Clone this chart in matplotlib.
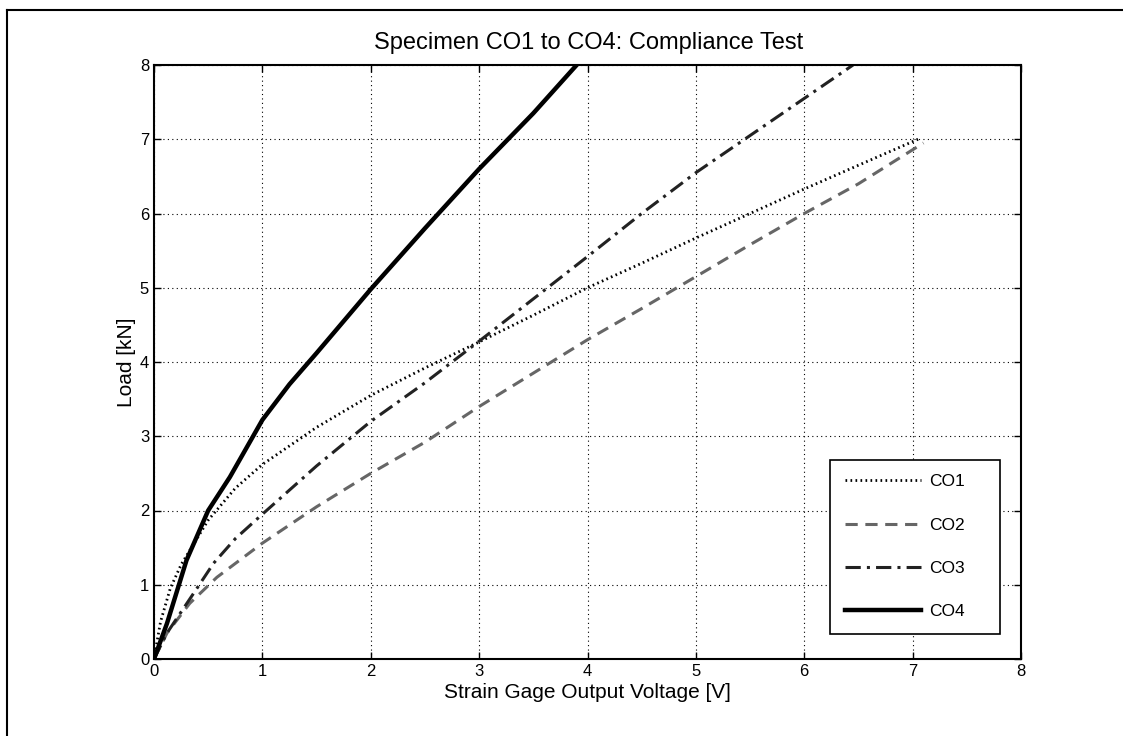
import numpy as np
import matplotlib
matplotlib.use('Agg')
import matplotlib.pyplot as plt
from matplotlib.lines import Line2D

plt.rcParams['font.family'] = ['Liberation Sans', 'DejaVu Sans']

# CO1 - dotted
co1_v = [0, 0.06, 0.15, 0.25, 0.5, 0.75, 1.0, 1.5, 2.0, 2.5, 3.0, 3.5, 4.0, 4.5, 5.0, 5.5, 6.0, 6.5, 7.05]
co1_kn = [0, 0.5, 0.95, 1.27, 1.87, 2.3, 2.62, 3.12, 3.55, 3.92, 4.27, 4.63, 5.0, 5.33, 5.67, 6.0, 6.33, 6.65, 7.0]
# CO2 - dashed
co2_v = [0, 0.12, 0.33, 0.58, 1.0, 1.5, 2.0, 2.5, 3.0, 3.5, 4.0, 4.5, 5.0, 5.5, 6.0, 6.5, 7.1]
co2_kn = [0, 0.35, 0.75, 1.1, 1.56, 2.05, 2.5, 2.92, 3.4, 3.85, 4.3, 4.72, 5.15, 5.58, 6.0, 6.4, 6.95]
# CO3 - dash-dot
co3_v = [0, 0.12, 0.4, 0.55, 0.75, 1.0, 1.5, 2.0, 2.5, 3.0, 3.5, 4.0, 4.5, 5.0, 5.5, 6.0, 6.45]
co3_kn = [0, 0.35, 0.96, 1.29, 1.62, 1.95, 2.6, 3.2, 3.72, 4.28, 4.85, 5.42, 6.0, 6.55, 7.05, 7.55, 8.0]
# CO4 - solid
co4_v = [0, 0.12, 0.3, 0.5, 0.7, 1.0, 1.25, 1.5, 2.0, 2.5, 3.0, 3.5, 3.9]
co4_kn = [0, 0.48, 1.33, 2.0, 2.45, 3.22, 3.7, 4.12, 4.98, 5.8, 6.6, 7.35, 8.0]

labels = ['CO1', 'CO2', 'CO3', 'CO4']

fig = plt.figure(figsize=(11.23, 7.36), dpi=100)
ax = fig.add_axes([154 / 1123, 1 - 659 / 736, (1021 - 154) / 1123, (659 - 65) / 736])

ax.plot(co1_v, co1_kn, color='black', lw=2, linestyle=(0, (0.6, 1.2)), label=labels[0])
ax.plot(co2_v, co2_kn, color='#666666', lw=2.2, linestyle=(0, (4, 2.5)), label=labels[1])
ax.plot(co3_v, co3_kn, color='#222222', lw=2.2, linestyle=(0, (5, 2, 1, 2)), label=labels[2])
ax.plot(co4_v, co4_kn, color='black', lw=3.2, label=labels[3])

ax.set_xlim(0, 8)
ax.set_ylim(0, 8)
ax.set_xticks(range(9))
ax.set_yticks(range(9))
ax.grid(True, color='black', linestyle=(0, (1, 3)), lw=0.8)
ax.tick_params(direction='in', top=True, right=True, length=5, labelsize=12, width=1)
for s in ax.spines.values():
    s.set_linewidth(1.5)

fig.text(589 / 1123, 1 - 43 / 736, 'Specimen CO1 to CO4: Compliance Test', fontsize=17,
         ha='center', va='center')
ax.set_xlabel('Strain Gage Output Voltage [V]', fontsize=15, labelpad=3)
ax.set_ylabel('Load [kN]', fontsize=15, labelpad=3)

leg = ax.legend(loc='lower left', bbox_to_anchor=(0.78, 0.042, 0.196, 0.293), mode='expand',
                fontsize=12.5, handlelength=4.4, handletextpad=0.45, labelspacing=1.62,
                borderpad=0.85, fancybox=False, framealpha=1, edgecolor='black', borderaxespad=0)
leg.get_frame().set_linewidth(1.2)

# outer figure frame (left and top edges visible)
fig.add_artist(Line2D([7 / 1123, 7 / 1123], [0, 1 - 10 / 736], color='black', lw=1.5, transform=fig.transFigure))
fig.add_artist(Line2D([7 / 1123, 1], [1 - 10 / 736, 1 - 10 / 736], color='black', lw=1.5, transform=fig.transFigure))

fig.savefig('out.png', dpi=100)
